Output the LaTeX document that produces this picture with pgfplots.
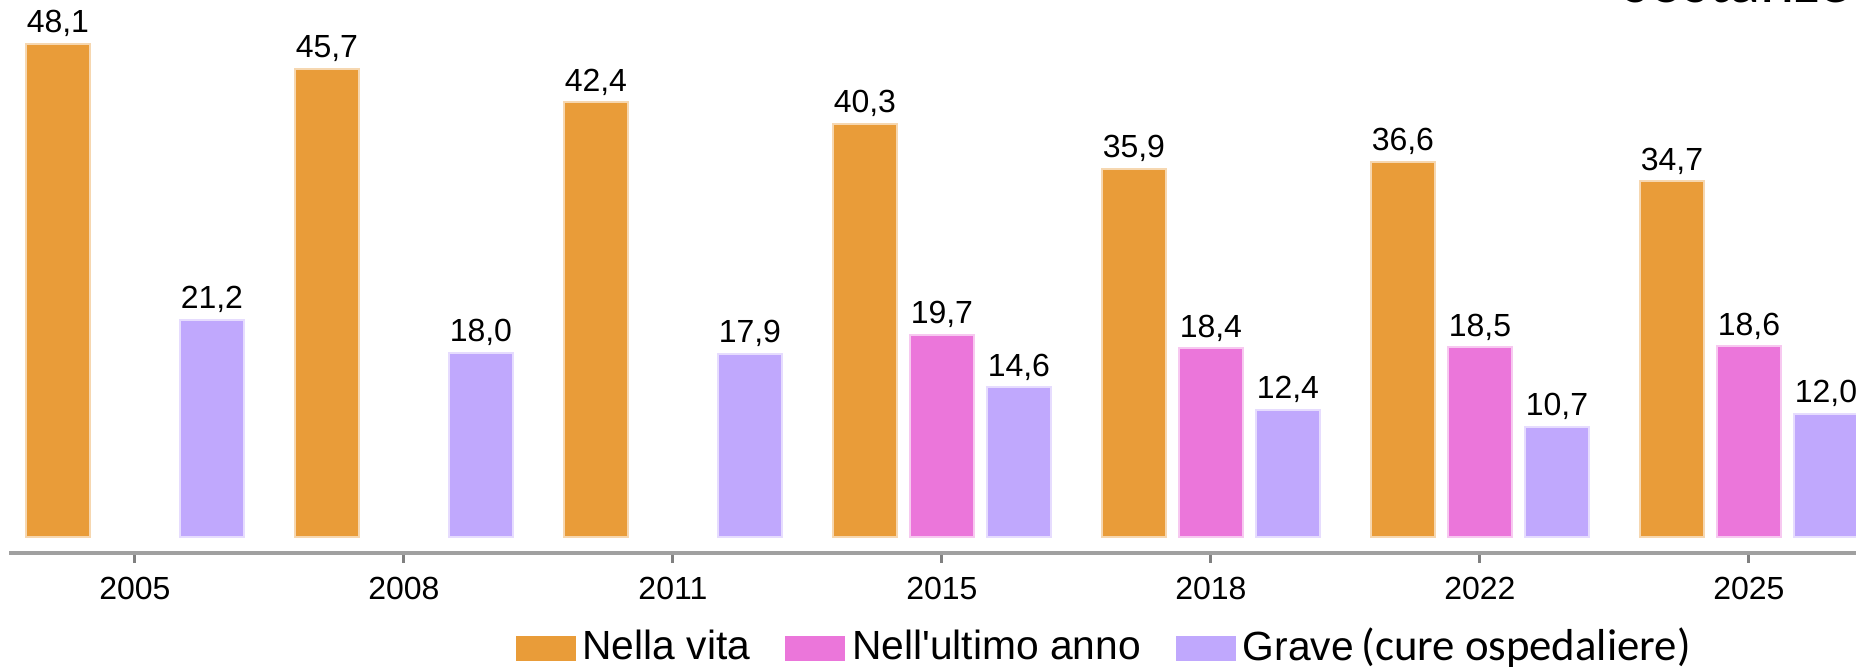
\documentclass[border=0pt]{standalone}
\usepackage{fontspec}
\setmainfont{Liberation Sans}
\newfontfamily\carlito{Carlito}
\usepackage{pgfplots}
\pgfplotsset{compat=1.18}
\definecolor{cOr}{RGB}{233,156,57}
\definecolor{cPk}{RGB}{235,118,218}
\definecolor{cPu}{RGB}{192,168,253}
\definecolor{axgray}{RGB}{160,160,160}
\definecolor{tickgray}{RGB}{128,128,128}
\pgfplotsset{sqlegend/.style={legend image code/.code={\fill[##1,draw=none] (0pt,-5pt) rectangle (24pt,5pt);}}}
\begin{document}
\begin{tikzpicture}
\begin{axis}[
  at={(3.6pt,45.6pt)}, anchor=south west,
  scale only axis, width=739pt, height=221.2pt,
  xmin=-0.468, xmax=6.4, ymin=-1.56, ymax=52.4,
  ybar=5.2pt, bar width=25.6pt,
  axis x line*=bottom, axis y line=none,
  x axis line style={draw=axgray, line width=1.3pt, -},
  xtick={0,...,6}, xticklabels={2005,2008,2011,2015,2018,2022,2025},
  tick align=outside, major tick length=4pt,
  xtick style={draw=tickgray, line width=1.2pt},
  xticklabel style={font=\fontsize{12.8}{14}\selectfont, text=black, yshift=-2pt},
  clip=false,
  nodes near coords={\pgfmathprintnumber[fixed,fixed zerofill,precision=1,use comma,assume math mode=true]{\pgfplotspointmeta}},
  every node near coord/.append style={font=\fontsize{12.8}{14}\selectfont, inner ysep=2.5pt, text=black},
  every axis plot post/.append style={sqlegend},
  legend columns=3,
  legend style={at={(0.2739,-0.1725)}, anchor=west, draw=none, fill=none, inner sep=0pt,
    font=\fontsize{16.3}{18}\selectfont, nodes={inner sep=0pt},
    /tikz/every odd column/.append style={column sep=2.8pt},
    /tikz/every even column/.append style={column sep=14pt}},
]
\addplot[fill=cOr, draw=cOr!40!white, line width=0.8pt] coordinates {(0,48.1) (1,45.7) (2,42.4) (3,40.3) (4,35.9) (5,36.6) (6,34.7)};
\addplot[fill=cPk, draw=cPk!40!white, line width=0.8pt] coordinates {(3,19.7) (4,18.4) (5,18.5) (6,18.6)};
\addplot[fill=cPu, draw=cPu!40!white, line width=0.8pt] coordinates {(0,21.2) (1,18.0) (2,17.9) (3,14.6) (4,12.4) (5,10.7) (6,12.0)};
\legend{\raisebox{1.8pt}{Nella vita}, \raisebox{1.8pt}{Nell\textquotesingle ultimo anno}, \raisebox{1.8pt}{Grave\hspace{3.2pt}{\carlito\fontsize{17.9}{20}\selectfont (cure ospedaliere)}}}
\end{axis}
\node[anchor=base east, font=\carlito\fontsize{26}{30}\selectfont] at (744pt,265.6pt) {sostanze};
\pgfresetboundingbox
\useasboundingbox (0,0) rectangle (742.4pt,266.8pt);
\end{tikzpicture}
\end{document}
